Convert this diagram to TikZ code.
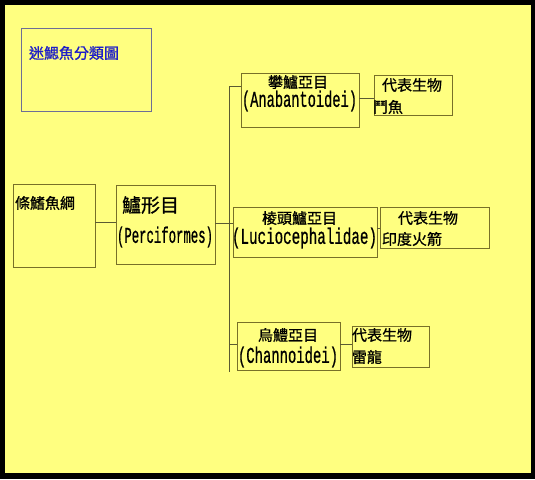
\documentclass[tikz,border=0pt]{standalone}
\usepackage{fontspec}
\usepackage{graphicx}
\newfontfamily\cjk[FakeBold=1]{Noto Sans CJK TC}
\newfontfamily\latn[FakeBold=1]{Liberation Mono}
\definecolor{bgyellow}{RGB}{255,255,128}
\definecolor{boxline}{RGB}{120,112,40}
\definecolor{connline}{RGB}{90,90,50}
\definecolor{titleline}{RGB}{110,110,150}
\definecolor{titleblue}{RGB}{30,30,200}
\newcommand{\zh}[1]{{\cjk\fontsize{15}{18}\selectfont #1}}
\newcommand{\zhbig}[1]{{\cjk\fontsize{19}{22}\selectfont #1}}
\newcommand{\lat}[2]{\resizebox{#1}{\height}{\latn\fontsize{22.5}{24}\selectfont #2}}
\tikzset{
  box/.style={draw=boxline, line width=0.9pt, rectangle, inner sep=0pt},
  titlebox/.style={draw=titleline, line width=0.9pt, rectangle, inner sep=0pt},
  txt/.style={anchor=west, inner sep=0pt, outer sep=0pt},
  conn/.style={draw=connline, line width=0.9pt}
}
\begin{document}
\begin{tikzpicture}[x=1pt,y=-1pt]
\useasboundingbox (0,0) rectangle (535,479);
\fill[black] (0,0) rectangle (535,479);
\fill[bgyellow] (5,5) rectangle (531,473);

% boxes
\node[titlebox, minimum width=130pt, minimum height=83pt] (title) at (86,69.5) {};
\node[box, minimum width=82pt, minimum height=83pt] (cls) at (54,225.5) {};
\node[box, minimum width=99pt, minimum height=79pt] (perc) at (165.5,224.5) {};
\node[box, minimum width=118pt, minimum height=54pt] (ana) at (300,100) {};
\node[box, minimum width=78pt, minimum height=40pt] (rep1) at (413,95) {};
\node[box, minimum width=144pt, minimum height=50pt] (luc) at (305,232) {};
\node[box, minimum width=109pt, minimum height=41pt] (rep2) at (434.5,227.5) {};
\node[box, minimum width=103pt, minimum height=48pt] (cha) at (288.5,346) {};
\node[box, minimum width=77pt, minimum height=41pt] (rep3) at (390.5,346.5) {};

% texts
\node[txt, text=titleblue] (ttitle) at (29,53) {\zh{迷鰓魚分類圖}};
\node[txt] (tcls) at (15,203) {\zh{條鰭魚綱}};
\node[txt] (tperc1) at (122,205) {\zhbig{鱸形目}};
\node[txt] (tperc2) at (117,237) {\lat{96pt}{(Perciformes)}};
\node[txt] (tana1) at (268,82) {\zh{攀鱸亞目}};
\node[txt] (tana2) at (242,101) {\lat{115pt}{(Anabantoidei)}};
\node[txt] (trep1a) at (382,85) {\zh{代表生物}};
\node[txt] (trep1b) at (373,107) {\zh{鬥魚}};
\node[txt] (tluc1) at (262,218) {\zh{棱頭鱸亞目}};
\node[txt] (tluc2) at (232,238) {\lat{145pt}{(Luciocephalidae)}};
\node[txt] (trep2a) at (398,218) {\zh{代表生物}};
\node[txt] (trep2b) at (382,239) {\zh{印度火箭}};
\node[txt] (tcha1) at (258,335) {\zh{烏鱧亞目}};
\node[txt] (tcha2) at (238,357) {\lat{100pt}{(Channoidei)}};
\node[txt] (trep3a) at (352,335) {\zh{代表生物}};
\node[txt] (trep3b) at (352,357) {\zh{雷龍}};

% connectors
\coordinate (vtop) at (229,86);
\coordinate (vbot) at (229,372);
\draw[conn] (vtop) -- (vbot);
\draw[conn] (vtop) -- (vtop -| ana.west);
\draw[conn] (cls.east |- 0,222) -- (perc.west |- 0,222);
\draw[conn] (perc.east |- 0,223) -- (luc.west |- 0,223);
\draw[conn] (vbot |- 0,344) -- (cha.west |- 0,344);
\draw[conn] (ana.east |- 0,98) -- (rep1.west |- 0,98);
\draw[conn] (luc.east |- 0,228) -- (rep2.west |- 0,228);
\draw[conn] (cha.east |- 0,344) -- (rep3.west |- 0,344);
\end{tikzpicture}
\end{document}
